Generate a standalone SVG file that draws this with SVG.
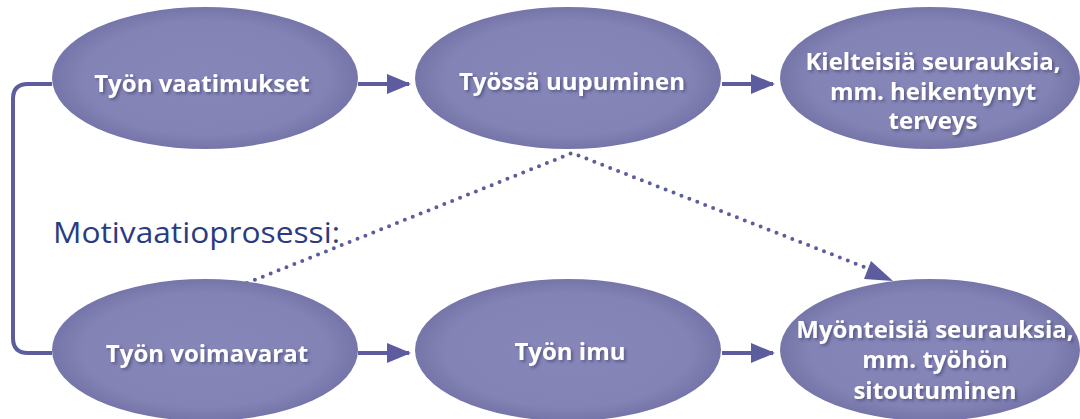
<svg xmlns="http://www.w3.org/2000/svg" width="1080" height="419" viewBox="0 0 1080 419">
  <style>
    .node { fill: url(#nodeFill); }
    .lbl { font-family: "Open Sans", "Noto Sans", sans-serif; font-weight: bold; font-size: 24px; fill: #ffffff; text-anchor: middle; filter: url(#txtShadow); }
    .conn { stroke: #5c5c9e; stroke-width: 4; fill: none; }
    .dot { stroke: #5c5c9e; stroke-width: 4; fill: none; stroke-linecap: round; stroke-dasharray: 0 8.5; }
    .title { font-family: "Open Sans", "Noto Sans", sans-serif; font-size: 30px; fill: #2b3b82; }
  </style>
  <defs>
    <radialGradient id="nodeFill" cx="0.5" cy="0.5" r="0.5">
      <stop offset="0" stop-color="#8686b9"/>
      <stop offset="0.8" stop-color="#8383b5"/>
      <stop offset="1" stop-color="#7675a9"/>
    </radialGradient>
    <filter id="txtShadow" x="-10%" y="-30%" width="120%" height="160%">
      <feDropShadow dx="2" dy="2" stdDeviation="1.5" flood-color="#3a3a6a" flood-opacity="0.6"/>
    </filter>
    <marker id="arrow" markerWidth="6" markerHeight="5" refX="5.5" refY="2.5" orient="auto" markerUnits="strokeWidth">
      <path d="M0,0 L6,2.5 L0,5 Z" fill="#5c5c9e"/>
    </marker>
  </defs>

  <!-- connectors -->
  <g id="connectors">
    <path class="conn" d="M52,84 H28 Q13,84 13,99 V338 Q13,353 28,353 H52"/>
    <line class="conn" x1="358" y1="84" x2="409" y2="84" marker-end="url(#arrow)"/>
    <line class="conn" x1="722" y1="84" x2="773" y2="84" marker-end="url(#arrow)"/>
    <line class="conn" x1="358" y1="353" x2="409" y2="353" marker-end="url(#arrow)"/>
    <line class="conn" x1="722" y1="353" x2="773" y2="353" marker-end="url(#arrow)"/>
    <polyline class="dot" points="247,283 572,153 872,270"/>
    <path d="M871,261 L893,281 L864,279 Z" fill="#5c5c9e"/>
  </g>

  <text class="title" x="53" y="243" textLength="287" lengthAdjust="spacingAndGlyphs">Motivaatioprosessi:</text>

  <g id="tyon-vaatimukset">
    <ellipse class="node" cx="205" cy="78" rx="153" ry="71"/>
    <text class="lbl" x="202" y="92">Työn vaatimukset</text>
  </g>
  <g id="tyossa-uupuminen">
    <ellipse class="node" cx="568" cy="78" rx="153" ry="71"/>
    <text class="lbl" x="572" y="90">Työssä uupuminen</text>
  </g>
  <g id="kielteisia-seurauksia">
    <ellipse class="node" cx="930" cy="78" rx="150" ry="71"/>
    <text class="lbl" x="933" y="70">Kielteisiä seurauksia,<tspan x="933" dy="30">mm. heikentynyt</tspan><tspan x="933" dy="29">terveys</tspan></text>
  </g>
  <g id="tyon-voimavarat">
    <ellipse class="node" cx="205" cy="350" rx="153" ry="71"/>
    <text class="lbl" x="207" y="362">Työn voimavarat</text>
  </g>
  <g id="tyon-imu">
    <ellipse class="node" cx="568" cy="350" rx="153" ry="71"/>
    <text class="lbl" x="570" y="360">Työn imu</text>
  </g>
  <g id="myonteisia-seurauksia">
    <ellipse class="node" cx="930" cy="350" rx="150" ry="71"/>
    <text class="lbl" x="935" y="338">Myönteisiä seurauksia,<tspan x="935" dy="30">mm. työhön</tspan><tspan x="935" dy="31">sitoutuminen</tspan></text>
  </g>
</svg>
